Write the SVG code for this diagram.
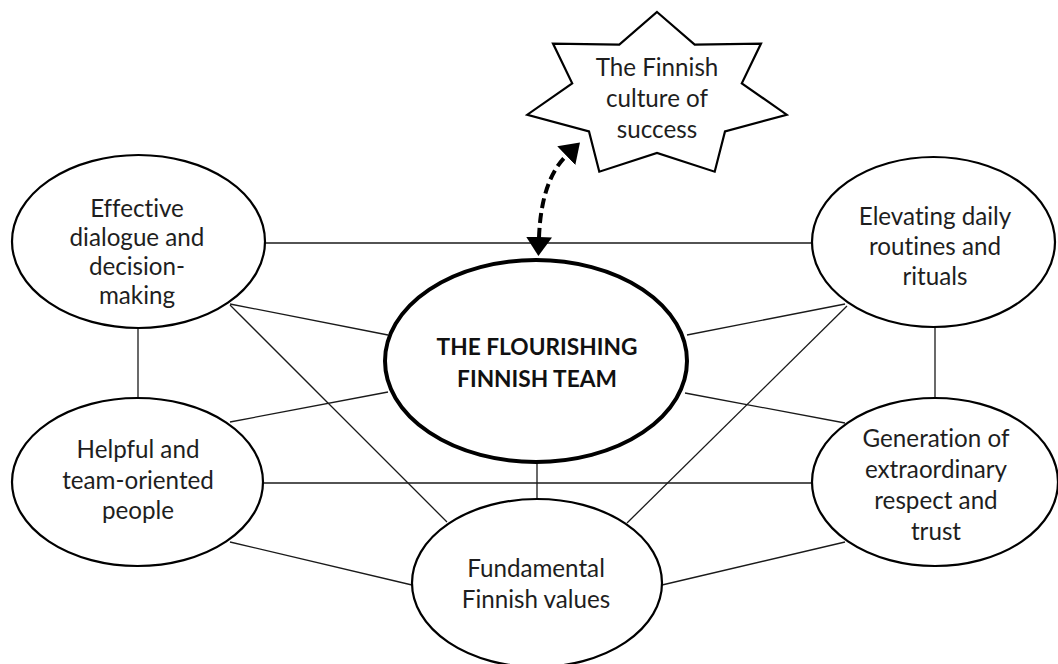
<svg xmlns="http://www.w3.org/2000/svg" width="1058" height="664" viewBox="0 0 1058 664">
<defs>
<marker id="ah" markerUnits="userSpaceOnUse" markerWidth="21" markerHeight="27" refX="1" refY="13" orient="auto-start-reverse" viewBox="0 0 21 27">
<path d="M0,0 L19,13 L0,26 z" fill="#000"/>
</marker>
<style>
.n{fill:#fff;stroke:#000;stroke-width:2.2}
.c{fill:#fff;stroke:#000;stroke-width:4}
.t{font-family:Lato,"Liberation Sans",sans-serif;font-size:24.2px;fill:#1e1e1e;text-anchor:middle;font-variant-ligatures:none}
.b{font-family:Lato,"Liberation Sans",sans-serif;font-size:22.7px;font-weight:bold;fill:#111;text-anchor:middle}
.l{stroke:#1a1a1a;stroke-width:1.3;fill:none}
</style>
</defs>
<rect width="1058" height="664" fill="#fff"/>
<g id="connectors">
<line class="l" x1="265" y1="243" x2="812" y2="243"/>
<line class="l" x1="138" y1="328" x2="138" y2="398"/>
<line class="l" x1="935" y1="327" x2="935" y2="398"/>
<line class="l" x1="263" y1="483" x2="812" y2="483"/>
<line class="l" x1="537" y1="462" x2="537" y2="499"/>
<line class="l" x1="230" y1="304" x2="388" y2="335"/>
<line class="l" x1="230" y1="305" x2="447" y2="522"/>
<line class="l" x1="230" y1="422" x2="388" y2="392"/>
<line class="l" x1="230" y1="542" x2="412" y2="585"/>
<line class="l" x1="687" y1="335" x2="845" y2="304"/>
<line class="l" x1="847" y1="306" x2="627" y2="523"/>
<line class="l" x1="685" y1="393" x2="845" y2="423"/>
<line class="l" x1="662" y1="585" x2="845" y2="542"/>
<path d="M539,238 Q541,180 567,155" fill="none" stroke="#000" stroke-width="4" stroke-dasharray="10,5" marker-start="url(#ah)" marker-end="url(#ah)"/>
</g>
<g id="star">
<polygon class="n" stroke-width="2.6" points="657,12 694.7,44.6 761,43.6 741.8,83.3 786.7,114.7 725,131.5 714.7,171.7 657,153 599.3,171.7 589,131.5 527.3,114.7 572.2,83.3 553,43.6 619.3,44.6"/>
<text class="t" x="657" y="76">The Finnish</text>
<text class="t" x="657" y="107">culture of</text>
<text class="t" x="657" y="138">success</text>
</g>
<g id="effective">
<ellipse class="n" cx="138.5" cy="241.5" rx="126.5" ry="86.5"/>
<text class="t" x="137" y="217">Effective</text>
<text class="t" x="137" y="246">dialogue and</text>
<text class="t" x="137" y="275">decision-</text>
<text class="t" x="137" y="304">making</text>
</g>
<g id="elevating">
<ellipse class="n" cx="933.5" cy="242" rx="121.5" ry="85"/>
<text class="t" x="935" y="225">Elevating daily</text>
<text class="t" x="935" y="255">routines and</text>
<text class="t" x="935" y="285">rituals</text>
</g>
<g id="center">
<ellipse class="c" cx="536" cy="361" rx="151" ry="101"/>
<text class="b" x="537" y="355">THE FLOURISHING</text>
<text class="b" x="537" y="387">FINNISH TEAM</text>
</g>
<g id="helpful">
<ellipse class="n" cx="137.5" cy="482" rx="125.5" ry="84"/>
<text class="t" x="138" y="458">Helpful and</text>
<text class="t" x="138" y="489">team-oriented</text>
<text class="t" x="138" y="519">people</text>
</g>
<g id="generation">
<ellipse class="n" cx="935" cy="482" rx="123" ry="84"/>
<text class="t" x="936" y="447">Generation of</text>
<text class="t" x="936" y="478">extraordinary</text>
<text class="t" x="936" y="509">respect and</text>
<text class="t" x="936" y="540">trust</text>
</g>
<g id="fundamental">
<ellipse class="n" cx="537" cy="583" rx="125" ry="84"/>
<text class="t" x="536" y="577">Fundamental</text>
<text class="t" x="536" y="608">Finnish values</text>
</g>
</svg>
